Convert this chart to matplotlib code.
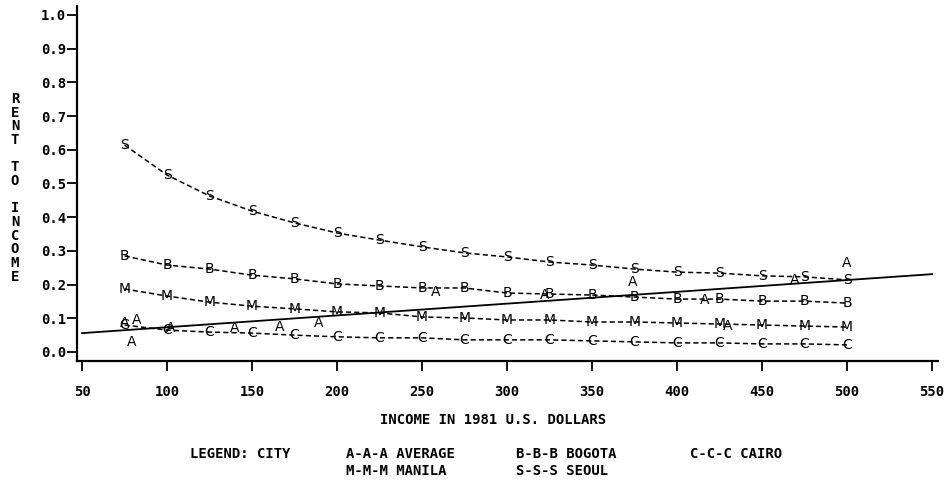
import matplotlib
matplotlib.use('Agg')
import matplotlib.pyplot as plt
import numpy as np

# income levels (1981 US dollars)
income = [75, 100, 125, 150, 175, 200, 225, 250, 275, 300,
          325, 350, 375, 400, 425, 450, 475, 500]

seoul = [0.614, 0.525, 0.463, 0.418, 0.383, 0.353, 0.332, 0.312, 0.294,
         0.282, 0.267, 0.258, 0.246, 0.237, 0.234, 0.226, 0.223, 0.214]
bogota = [0.285, 0.258, 0.246, 0.228, 0.217, 0.202, 0.196, 0.190, 0.190,
          0.175, 0.172, 0.169, 0.163, 0.157, 0.157, 0.151, 0.151, 0.145]
manila = [0.187, 0.166, 0.148, 0.136, 0.128, 0.119, 0.116, 0.104, 0.101,
          0.095, 0.095, 0.089, 0.089, 0.086, 0.083, 0.080, 0.077, 0.074]
cairo = [0.080, 0.065, 0.059, 0.056, 0.050, 0.045, 0.042, 0.042, 0.036,
         0.036, 0.036, 0.033, 0.030, 0.027, 0.027, 0.024, 0.024, 0.021]

# average: scattered points + fitted line
avg_x = [75, 82, 79, 102, 140, 166, 189, 258, 322, 374, 416, 430, 469, 500]
avg_y = [0.087, 0.096, 0.030, 0.070, 0.072, 0.074, 0.086, 0.178, 0.170,
         0.208, 0.154, 0.077, 0.213, 0.263]
fit_x = [50, 550]
fit_y = [0.056, 0.231]

xticks = [50, 100, 150, 200, 250, 300, 350, 400, 450, 500, 550]
yticks = [0.0, 0.1, 0.2, 0.3, 0.4, 0.5, 0.6, 0.7, 0.8, 0.9, 1.0]

mono = 'DejaVu Sans Mono'
fs = 10

fig = plt.figure(figsize=(9.53, 4.83), dpi=100)
ax = fig.add_axes([0.0808, 0.2526, 0.9035, 0.735])

# city curves: dashed line with a letter at each point
for letter, vals in [('S', seoul), ('B', bogota), ('M', manila), ('C', cairo)]:
    ax.plot(income, vals, color='k', lw=1.1, dashes=(3.4, 2.0))
    for xv, yv in zip(income, vals):
        ax.text(xv, yv, letter, ha='center', va='center', fontsize=fs,
                family='DejaVu Sans', color='k')

ax.plot(fit_x, fit_y, color='k', lw=1.3)
for xv, yv in zip(avg_x, avg_y):
    ax.text(xv, yv, 'A', ha='center', va='center', fontsize=fs,
            family='DejaVu Sans', color='k')

# cut-off glyph at the right edge
ax.text(561, 0.232, 'S', ha='left', va='center', fontsize=fs,
        family='DejaVu Sans', color='k', clip_on=False)

ax.set_xlim(47, 553.5)
ax.set_ylim(-0.0267, 1.0267)
ax.set_xticks(xticks)
ax.set_yticks(yticks)
ax.set_xticklabels([str(t) for t in xticks], family=mono, fontsize=fs, weight='bold')
ax.set_yticklabels(['%.1f' % t for t in yticks], family=mono, fontsize=fs, weight='bold')
ax.tick_params(direction='out', length=7, width=1.3, pad=1)
ax.tick_params(axis='x', pad=10)
for s in ['top', 'right']:
    ax.spines[s].set_visible(False)
for s in ['left', 'bottom']:
    ax.spines[s].set_linewidth(1.6)

# vertical stacked y label
fig.text(0.0157, 0.611, '\n'.join('RENT TO INCOME'), ha='center', va='center',
         family=mono, fontsize=fs, weight='bold', linespacing=0.97)

fig.text(0.5175, 1 - 420 / 483, 'INCOME IN 1981 U.S. DOLLARS', ha='center',
         va='center', family=mono, fontsize=fs, weight='bold')

# legend
r1 = 1 - 454 / 483
r2 = 1 - 471 / 483
kw = dict(va='center', ha='left', family=mono, fontsize=fs, weight='bold')
fig.text(190 / 953, r1, 'LEGEND: CITY', **kw)
fig.text(346 / 953, r1, 'A-A-A AVERAGE', **kw)
fig.text(516 / 953, r1, 'B-B-B BOGOTA', **kw)
fig.text(690 / 953, r1, 'C-C-C CAIRO', **kw)
fig.text(346 / 953, r2, 'M-M-M MANILA', **kw)
fig.text(516 / 953, r2, 'S-S-S SEOUL', **kw)

fig.savefig('out.png', dpi=100)
